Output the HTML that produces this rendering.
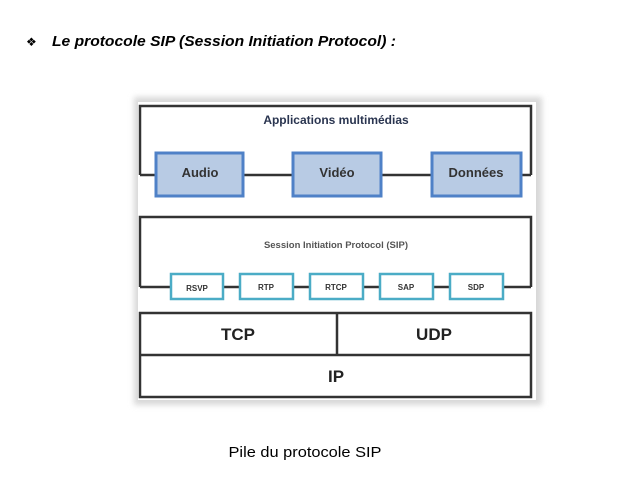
<!DOCTYPE html>
<html><head><meta charset="utf-8"><style>
body{margin:0;background:#fff;width:637px;height:485px;overflow:hidden;}
svg{display:block}
</style></head><body>
<svg width="637" height="485" viewBox="0 0 637 485" xmlns="http://www.w3.org/2000/svg">
<defs><filter id="b" x="-10%" y="-10%" width="120%" height="120%"><feGaussianBlur stdDeviation="3"/></filter></defs>
<text x="26" y="46" font-family="Liberation Sans, sans-serif" font-size="12" fill="#000">❖</text>
<text x="52" y="46" font-family="Liberation Sans, sans-serif" font-size="14.5" font-weight="bold" font-style="italic" textLength="344" lengthAdjust="spacingAndGlyphs" fill="#000">Le protocole SIP (Session Initiation Protocol) :</text>
<rect x="134" y="97" width="408" height="308" fill="#d8d8d8" filter="url(#b)"/>
<rect x="138" y="102" width="398" height="298" fill="#fff"/>
<g fill="none" stroke="#333" stroke-width="2.5">
<path d="M140 175 V106 H531 V175"/>
<path d="M140 175 H531"/>
<path d="M140 287 V217 H531 V287"/>
<path d="M140 287 H531"/>
<rect x="140" y="313" width="391" height="84"/>
<path d="M140 355 H531 M337 313 V355"/>
</g>
<g fill="#b8cbe4" stroke="#4f81c7" stroke-width="3">
<rect x="156" y="153" width="87" height="43"/>
<rect x="293" y="153" width="88" height="43"/>
<rect x="432" y="153" width="89" height="43"/>
</g>
<g fill="#fff" stroke="#4bacc6" stroke-width="2.5">
<rect x="171" y="274" width="52" height="25"/>
<rect x="240" y="274" width="53" height="25"/>
<rect x="310" y="274" width="53" height="25"/>
<rect x="380" y="274" width="53" height="25"/>
<rect x="450" y="274" width="53" height="25"/>
</g>
<g font-family="Liberation Sans, sans-serif" font-weight="bold" text-anchor="middle" fill="#333">
<text x="336" y="124" font-size="12" fill="#2a3550">Applications multimédias</text>
<text x="200" y="177" font-size="13">Audio</text>
<text x="337" y="177" font-size="13">Vidéo</text>
<text x="476" y="177" font-size="13">Données</text>
<text x="336" y="248" font-size="9.5" fill="#555">Session Initiation Protocol (SIP)</text>
<text x="197" y="291" font-size="8">RSVP</text>
<text x="266" y="290" font-size="8">RTP</text>
<text x="336" y="290" font-size="8">RTCP</text>
<text x="406" y="290" font-size="8">SAP</text>
<text x="476" y="290" font-size="8">SDP</text>
<text x="238" y="340" font-size="17" fill="#222">TCP</text>
<text x="434" y="340" font-size="17" fill="#222">UDP</text>
<text x="336" y="382" font-size="17" fill="#222">IP</text>
</g>
<text x="305" y="457" text-anchor="middle" font-family="Liberation Sans, sans-serif" font-size="15" textLength="153" lengthAdjust="spacingAndGlyphs" fill="#000">Pile du protocole SIP</text>
</svg>
</body></html>
